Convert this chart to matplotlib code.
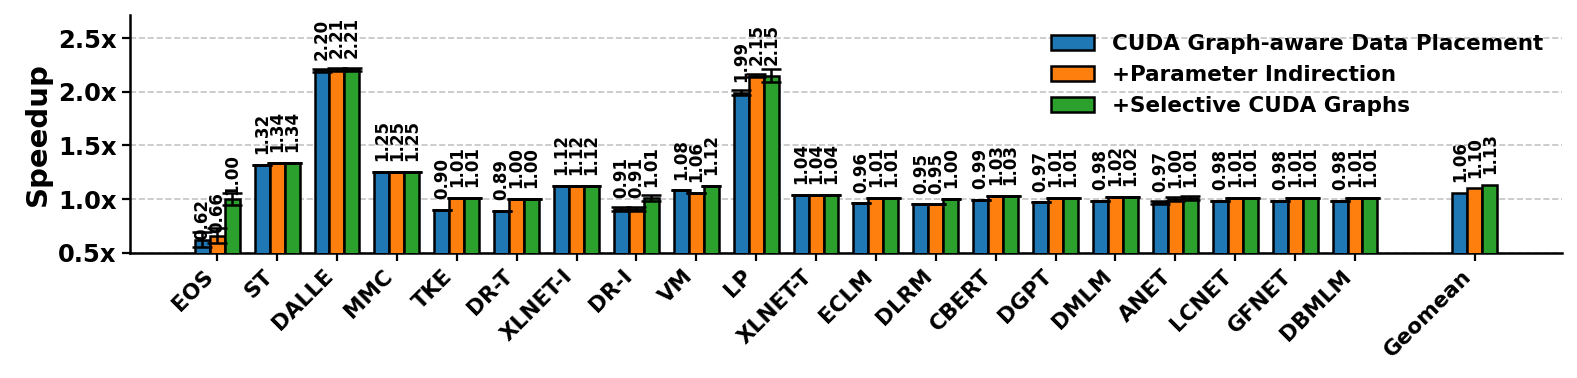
import matplotlib
matplotlib.use("Agg")
import matplotlib.pyplot as plt
import numpy as np

categories = ["EOS", "ST", "DALLE", "MMC", "TKE", "DR-T", "XLNET-I", "DR-I", "VM", "LP",
              "XLNET-T", "ECLM", "DLRM", "CBERT", "DGPT", "DMLM", "ANET", "LCNET", "GFNET",
              "DBMLM", "Geomean"]

series_names = ["CUDA Graph-aware Data Placement", "+Parameter Indirection",
                "+Selective CUDA Graphs"]

placement = [0.62, 1.32, 2.20, 1.25, 0.90, 0.89, 1.12, 0.91, 1.08, 1.99,
             1.04, 0.96, 0.95, 0.99, 0.97, 0.98, 0.97, 0.98, 0.98, 0.98, 1.06]
indirection = [0.66, 1.34, 2.21, 1.25, 1.01, 1.00, 1.12, 0.91, 1.06, 2.15,
               1.04, 1.01, 0.95, 1.03, 1.01, 1.02, 1.00, 1.01, 1.01, 1.01, 1.10]
selective = [1.00, 1.34, 2.21, 1.25, 1.01, 1.00, 1.12, 1.01, 1.12, 2.15,
             1.04, 1.01, 1.00, 1.03, 1.01, 1.02, 1.01, 1.01, 1.01, 1.01, 1.13]

# error bars (benchmarks only, not Geomean)
placement_err = [0.07, 0, 0.015, 0, 0, 0, 0, 0.02, 0, 0.025,
                 0, 0, 0, 0, 0, 0, 0.015, 0, 0, 0]
indirection_err = [0.068, 0, 0.015, 0, 0, 0, 0, 0.02, 0, 0.015,
                   0, 0, 0, 0, 0, 0, 0.015, 0, 0, 0]
selective_err = [0.055, 0, 0.015, 0, 0, 0, 0, 0.03, 0, 0.06,
                 0, 0, 0, 0, 0, 0, 0.015, 0, 0, 0]

yticks = [0.5, 1.0, 1.5, 2.0, 2.5]

colors = ["#1f77b4", "#ff7f0e", "#2ca02c"]

plt.rcParams["font.family"] = ["DejaVu Sans"]
plt.rcParams["font.weight"] = "bold"

fig = plt.figure(figsize=(15.77, 3.78), dpi=100)
ax = fig.add_axes([0.0822, 0.3315, 0.9907 - 0.0822, 0.9603 - 0.3315])

n_bench = len(categories) - 1
x = np.array(list(range(n_bench)) + [n_bench + 1], dtype=float)
width = 0.25
offsets = [-width, 0.0, width]
values = [placement, indirection, selective]
errs = [placement_err, indirection_err, selective_err]

for i in range(3):
    xs = x + offsets[i]
    ax.bar(xs, values[i], width, color=colors[i], edgecolor="black", linewidth=1.8,
           label=series_names[i], zorder=3)
    ax.errorbar(xs[:n_bench], values[i][:n_bench], yerr=errs[i], fmt="none",
                ecolor="black", elinewidth=1.8, capsize=7, capthick=1.8, zorder=4)
    for j, (xx, v) in enumerate(zip(xs, values[i])):
        pad = 0.10
        if categories[j] == "EOS":
            pad = [0.0, 0.02, 0.035][i]
        ax.text(xx, v + pad, f"{v:.2f}", rotation=90, ha="center", va="bottom",
                fontsize=12, fontweight="bold", zorder=5)

ax.set_ylim(0.5, 2.715)
ax.set_yticks(yticks)
ax.set_yticklabels([f"{t:.1f}x" for t in yticks], fontsize=17.5, fontweight="bold")
ax.set_xticks(x)
ax.set_xticklabels(categories, rotation=45, ha="right", fontsize=15.5, fontweight="bold")
ax.set_ylabel("Speedup", fontsize=21, fontweight="bold")

ax.yaxis.grid(True, linestyle="--", color="#c4c4c4", linewidth=1.2, zorder=0)
ax.set_axisbelow(True)
ax.spines["top"].set_visible(False)
ax.spines["right"].set_visible(False)
ax.spines["left"].set_linewidth(1.8)
ax.spines["bottom"].set_linewidth(1.8)
ax.tick_params(axis="both", width=1.6, length=6)

ax.legend(loc="upper right", frameon=False, labelspacing=0.5,
          prop={"weight": "bold", "size": 15.5})

fig.savefig("out.png", dpi=100)
